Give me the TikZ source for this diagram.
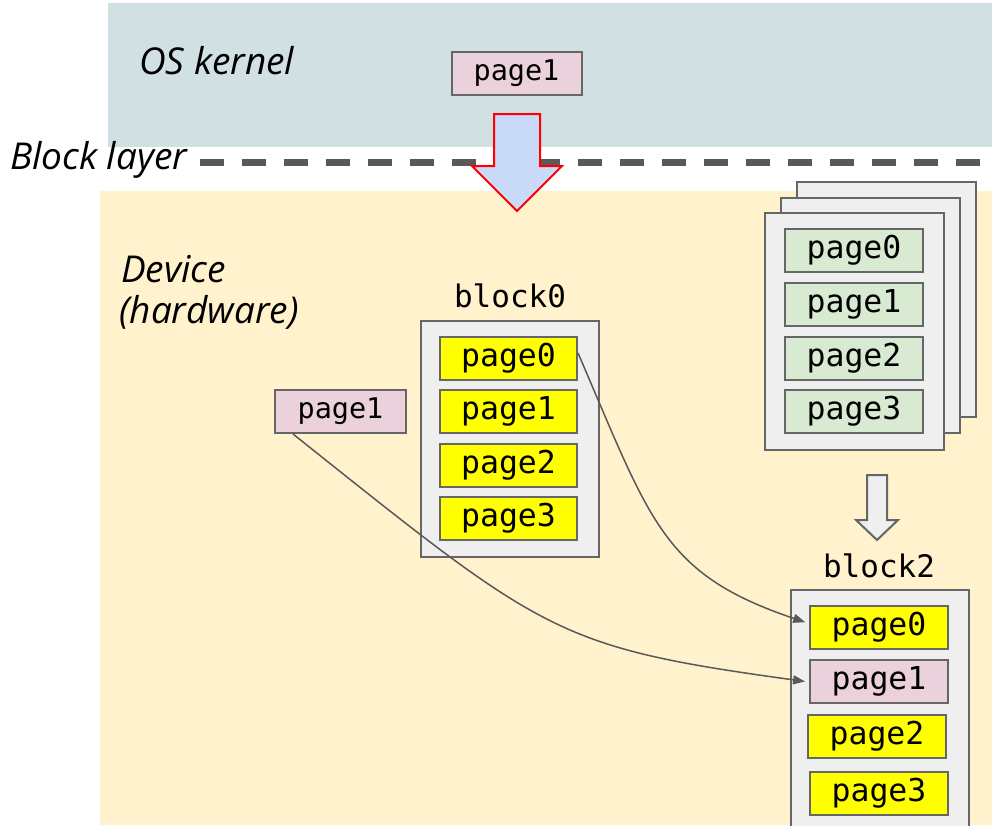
\documentclass[tikz,border=0pt]{standalone}
\usepackage{fontspec}
\usetikzlibrary{arrows.meta}
\newfontfamily\lblfont{Open Sans}
\newfontfamily\pgfont{DejaVu Sans Mono}
\definecolor{kernelbg}{HTML}{D0E0E3}
\definecolor{devbg}{HTML}{FFF2CC}
\definecolor{blockbg}{HTML}{EFEFEF}
\definecolor{edgegray}{HTML}{666666}
\definecolor{pinkpg}{HTML}{EAD1DC}
\definecolor{greenpg}{HTML}{D9EAD3}
\definecolor{yellowpg}{HTML}{FFFF00}
\definecolor{bluearrow}{HTML}{C9DAF8}
\definecolor{conn}{HTML}{595959}
\definecolor{dashgray}{HTML}{595959}
\begin{document}
\begin{tikzpicture}[x=1pt,y=-1pt,
  layerlbl/.style={anchor=base west, inner sep=0pt, font=\lblfont\itshape\fontsize{37}{41}\selectfont},
  blockbox/.style={draw=edgegray, fill=blockbg, line width=2pt, inner sep=0pt},
  pagebox/.style={draw=edgegray, line width=2pt, minimum width=137pt, minimum height=43pt, inner sep=0pt, font=\pgfont\fontsize{31.5}{31.5}\selectfont},
  smallpage/.style={pagebox, fill=pinkpg, minimum width=130pt, font=\pgfont\fontsize{28.5}{28.5}\selectfont},
  ypage/.style={pagebox, fill=yellowpg},
  gpage/.style={pagebox, fill=greenpg},
  ppage/.style={pagebox, fill=pinkpg},
  blocklbl/.style={anchor=base, inner sep=0pt, font=\pgfont\fontsize{31}{31}\selectfont},
  connector/.style={draw=conn, line width=1.5pt, -{Triangle[length=12pt,width=9pt]}},
  bigarrow/.style={draw=red, fill=bluearrow, line width=2pt, line join=miter},
  smallarrow/.style={draw=edgegray, fill=blockbg, line width=2pt}
]
\clip (0,0) rectangle (992,825);
\useasboundingbox (0,0) rectangle (992,825);
% layers
\fill[kernelbg] (108,3) rectangle (992,147);
\fill[devbg] (100,191) rectangle (992,825);
\draw[dashgray, line width=7pt, dash pattern=on 24pt off 18pt] (200,162) -- (992,162);
\node[layerlbl] (oslbl) at (139,74) {OS kernel};
\node[layerlbl] (blocklbl) at (10,169) {Block layer};
\node[layerlbl] (devlbl) at (121,282) {Device};
\node[layerlbl] (hwlbl) at (119,323) {(hardware)};
% kernel page
\node[smallpage] (kp1) at (516.5,73.5) {page1};
% big arrow
\draw[bigarrow] (494,114) -- (540,114) -- (540,166) -- (562,166) -- (517,211) -- (472,166) -- (494,166) -- cycle;
% stacked blocks
\node[blockbox, minimum width=179pt, minimum height=235pt] (sb3) at (886.5,299.5) {};
\node[blockbox, minimum width=179pt, minimum height=235pt] (sb2) at (870.5,315.5) {};
\node[blockbox, minimum width=179pt, minimum height=237pt] (sb1) at (854.5,331.5) {};
\node[gpage, minimum width=138pt] (g0) at (854,250.5) {page0};
\node[gpage, minimum width=138pt] (g1) at (854,304.5) {page1};
\node[gpage, minimum width=138pt] (g2) at (854,358) {page2};
\node[gpage, minimum width=138pt] (g3) at (854,411.5) {page3};
% block0
\node[blocklbl] (b0lbl) at (510,307) {block0};
\node[blockbox, minimum width=178pt, minimum height=236pt] (b0) at (510,439) {};
\node[ypage] (b0p0) at (508.5,358) {page0};
\node[ypage] (b0p1) at (508.5,411.5) {page1};
\node[ypage] (b0p2) at (508.5,465) {page2};
\node[ypage] (b0p3) at (508.5,518.5) {page3};
% loose page1
\node[smallpage, minimum width=131pt] (p1) at (340.5,411.5) {page1};
% small gray arrow
\draw[smallarrow] (867,475) -- (887,475) -- (887,520) -- (898,520) -- (877,540) -- (856,520) -- (867,520) -- cycle;
% block2
\node[blocklbl] (b2lbl) at (879,577) {block2};
\node[blockbox, minimum width=178pt, minimum height=250pt] (b2) at (880,715) {};
\node[ypage, minimum width=138pt] (b2p0) at (879,627.5) {page0};
\node[ppage, minimum width=138pt] (b2p1) at (879,681) {page1};
\node[ypage, minimum width=138pt] (b2p2) at (877,736.5) {page2};
\node[ypage, minimum width=138pt] (b2p3) at (879,793.5) {page3};
% connectors
\draw[connector, shorten >=4pt] ([yshift=5pt]b0p0.east) .. controls (651,522) and (662,574) .. ([yshift=4pt]b2p0.west);
\draw[connector, shorten >=4pt] ([xshift=19pt]p1.south west) .. controls (544,634) and (555,647) .. ([yshift=-1pt]b2p1.west);
\end{tikzpicture}
\end{document}
